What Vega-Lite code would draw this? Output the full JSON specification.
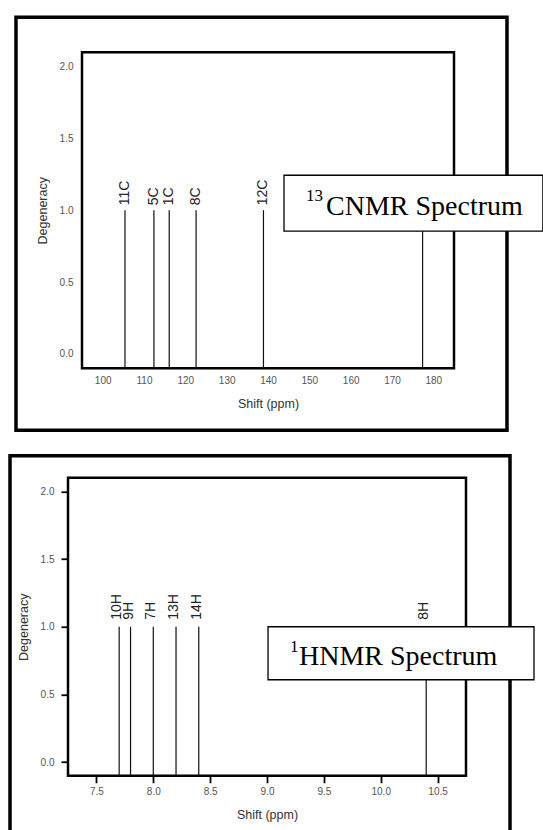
{
  "$schema": "https://vega.github.io/schema/vega-lite/v6.json",
  "background": "white",
  "padding": {"left": 6, "top": 13.25, "right": 0, "bottom": 0},
  "spacing": 18.5,
  "config": {
    "view": {"stroke": "black", "strokeWidth": 2.5},
    "axis": {
      "grid": false, "domain": false,
      "labelFont": "Liberation Sans", "labelFontSize": 10, "labelColor": "#555",
      "titleFont": "Liberation Sans", "titleFontSize": 12.5, "titleFontWeight": "normal", "titleColor": "#333",
      "labelFlush": false, "labelOverlap": false
    }
  },
  "datasets": {
    "c13": [
      {"shift": 105.4, "degeneracy": 1, "label": "11C"},
      {"shift": 112.4, "degeneracy": 1, "label": "5C"},
      {"shift": 116.1, "degeneracy": 1, "label": "1C"},
      {"shift": 122.6, "degeneracy": 1, "label": "8C"},
      {"shift": 138.9, "degeneracy": 1, "label": "12C"},
      {"shift": 177.4, "degeneracy": 1, "label": ""}
    ],
    "h1": [
      {"shift": 7.7, "degeneracy": 1, "label": "10H"},
      {"shift": 7.8, "degeneracy": 1, "label": "9H"},
      {"shift": 8.0, "degeneracy": 1, "label": "7H"},
      {"shift": 8.2, "degeneracy": 1, "label": "13H"},
      {"shift": 8.4, "degeneracy": 1, "label": "14H"},
      {"shift": 10.4, "degeneracy": 1, "label": "8H"}
    ]
  },
  "vconcat": [
    {"spacing": 0, "hconcat": [
    {"width": 1, "height": 1, "view": {"stroke": null}, "data": {"values": [{}]}, "mark": {"type": "point", "opacity": 0, "size": 1}},
    {
      "width": 372, "height": 316,
      "layer": [
        {
          "data": {"name": "c13"},
          "mark": {"type": "rule", "color": "#111", "strokeWidth": 1.2},
          "encoding": {
            "x": {"field": "shift", "type": "quantitative",
                  "scale": {"domain": [95, 185], "nice": false, "zero": false},
                  "axis": {"values": [100, 110, 120, 130, 140, 150, 160, 170, 180], "ticks": false, "labelPadding": 7, "labelOverlap": false, "title": "Shift (ppm)", "titlePadding": 12}},
            "y": {"field": "degeneracy", "type": "quantitative",
                  "scale": {"domain": [-0.1, 2.1], "nice": false, "zero": false},
                  "axis": {"values": [0, 0.5, 1, 1.5, 2], "format": ".1f", "ticks": false, "labelPadding": 9, "labelOverlap": false, "title": "Degeneracy", "titlePadding": 10}},
            "y2": {"datum": -0.1}
          }
        },
        {
          "data": {"name": "c13"},
          "mark": {"type": "text", "angle": 270, "align": "left", "baseline": "middle", "dx": 5, "dy": 0, "font": "Liberation Sans", "fontSize": 14, "color": "#222"},
          "encoding": {
            "x": {"field": "shift", "type": "quantitative", "scale": {"domain": [95, 185], "nice": false, "zero": false}},
            "y": {"field": "degeneracy", "type": "quantitative", "scale": {"domain": [-0.1, 2.1], "nice": false, "zero": false}},
            "text": {"field": "label"}
          }
        },
        {
          "data": {"values": [{}]},
          "mark": {"type": "rect", "filled": false, "stroke": "black", "strokeWidth": 3.5},
          "encoding": {
            "x": {"datum": 79.03, "type": "quantitative", "scale": {"domain": [95, 185], "nice": false, "zero": false}},
            "x2": {"datum": 197.82},
            "y": {"datum": 2.344, "type": "quantitative", "scale": {"domain": [-0.1, 2.1], "nice": false, "zero": false}},
            "y2": {"datum": -0.532}
          }
        },
        {
          "data": {"values": [{}]},
          "mark": {"type": "rect", "fill": "white", "stroke": "black", "strokeWidth": 1.3},
          "encoding": {
            "x": {"datum": 143.87, "type": "quantitative", "scale": {"domain": [95, 185], "nice": false, "zero": false}},
            "x2": {"datum": 206.5},
            "y": {"datum": 1.2437, "type": "quantitative", "scale": {"domain": [-0.1, 2.1], "nice": false, "zero": false}},
            "y2": {"datum": 0.854}
          }
        },
        {
          "data": {"values": [{}]},
          "mark": {"type": "text", "align": "left", "baseline": "alphabetic", "font": "Liberation Serif", "fontSize": 28, "color": "black"},
          "encoding": {
            "x": {"datum": 154.03, "type": "quantitative", "scale": {"domain": [95, 185], "nice": false, "zero": false}},
            "y": {"datum": 0.965, "type": "quantitative", "scale": {"domain": [-0.1, 2.1], "nice": false, "zero": false}},
            "text": {"value": "CNMR Spectrum"}
          }
        },
        {
          "data": {"values": [{}]},
          "mark": {"type": "text", "align": "left", "baseline": "alphabetic", "font": "Liberation Serif", "fontSize": 17, "color": "black"},
          "encoding": {
            "x": {"datum": 149.19, "type": "quantitative", "scale": {"domain": [95, 185], "nice": false, "zero": false}},
            "y": {"datum": 1.0627, "type": "quantitative", "scale": {"domain": [-0.1, 2.1], "nice": false, "zero": false}},
            "text": {"value": "13"}
          }
        },
        {
          "data": {"values": [{}]},
          "mark": {"type": "rule", "opacity": 0, "strokeWidth": 1},
          "encoding": {
            "x": {"datum": 77.28, "type": "quantitative", "scale": {"domain": [95, 185], "nice": false, "zero": false}},
            "y": {"datum": 0, "type": "quantitative", "scale": {"domain": [-0.1, 2.1], "nice": false, "zero": false}},
            "y2": {"datum": 0.5}
          }
        }
      ]
    }
    ]},
    {"spacing": 0, "hconcat": [
    {"width": 1, "height": 1, "view": {"stroke": null}, "data": {"values": [{}]}, "mark": {"type": "point", "opacity": 0, "size": 1}},
    {
      "width": 398, "height": 298,
      "layer": [
        {
          "data": {"name": "h1"},
          "mark": {"type": "rule", "color": "#111", "strokeWidth": 1.2},
          "encoding": {
            "x": {"field": "shift", "type": "quantitative",
                  "scale": {"domain": [7.25, 10.75], "nice": false, "zero": false},
                  "axis": {"values": [7.5, 7.75, 8, 8.25, 8.5, 8.75, 9, 9.25, 9.5, 9.75, 10, 10.25, 10.5],
                           "labelExpr": "abs(datum.value * 2 - round(datum.value * 2)) < 0.01 ? format(datum.value, '.1f') : ''",
                           "labelOverlap": false,
                           "ticks": true, "tickSize": 7, "tickWidth": 1.8, "tickColor": "black", "labelPadding": 4,
                           "title": "Shift (ppm)", "titlePadding": 12}},
            "y": {"field": "degeneracy", "type": "quantitative",
                  "scale": {"domain": [-0.1, 2.1], "nice": false, "zero": false},
                  "axis": {"values": [0, 0.25, 0.5, 0.75, 1, 1.25, 1.5, 1.75, 2],
                           "labelExpr": "abs(datum.value * 2 - round(datum.value * 2)) < 0.01 ? format(datum.value, '.1f') : ''",
                           "labelOverlap": false,
                           "ticks": true, "tickSize": 7, "tickWidth": 1.8, "tickColor": "black", "labelPadding": 7,
                           "title": "Degeneracy", "titlePadding": 10}},
            "y2": {"datum": -0.1}
          }
        },
        {
          "data": {"name": "h1"},
          "mark": {"type": "text", "angle": 270, "align": "left", "baseline": "middle", "dx": 7, "dy": -2, "font": "Liberation Sans", "fontSize": 14, "color": "#222"},
          "encoding": {
            "x": {"field": "shift", "type": "quantitative", "scale": {"domain": [7.25, 10.75], "nice": false, "zero": false}},
            "y": {"field": "degeneracy", "type": "quantitative", "scale": {"domain": [-0.1, 2.1], "nice": false, "zero": false}},
            "text": {"field": "label"}
          }
        },
        {
          "data": {"values": [{}]},
          "mark": {"type": "rect", "filled": false, "stroke": "black", "strokeWidth": 3.5},
          "encoding": {
            "x": {"datum": 6.74, "type": "quantitative", "scale": {"domain": [7.25, 10.75], "nice": false, "zero": false}},
            "x2": {"datum": 11.137},
            "y": {"datum": 2.262, "type": "quantitative", "scale": {"domain": [-0.1, 2.1], "nice": false, "zero": false}},
            "y2": {"datum": -0.57}
          }
        },
        {
          "data": {"values": [{}]},
          "mark": {"type": "rect", "fill": "white", "stroke": "black", "strokeWidth": 1.3},
          "encoding": {
            "x": {"datum": 9.009, "type": "quantitative", "scale": {"domain": [7.25, 10.75], "nice": false, "zero": false}},
            "x2": {"datum": 11.348},
            "y": {"datum": 1.0, "type": "quantitative", "scale": {"domain": [-0.1, 2.1], "nice": false, "zero": false}},
            "y2": {"datum": 0.6087}
          }
        },
        {
          "data": {"values": [{}]},
          "mark": {"type": "text", "align": "left", "baseline": "alphabetic", "font": "Liberation Serif", "fontSize": 28, "color": "black"},
          "encoding": {
            "x": {"datum": 9.2815, "type": "quantitative", "scale": {"domain": [7.25, 10.75], "nice": false, "zero": false}},
            "y": {"datum": 0.7194, "type": "quantitative", "scale": {"domain": [-0.1, 2.1], "nice": false, "zero": false}},
            "text": {"value": "HNMR Spectrum"}
          }
        },
        {
          "data": {"values": [{}]},
          "mark": {"type": "text", "align": "left", "baseline": "alphabetic", "font": "Liberation Serif", "fontSize": 17, "color": "black"},
          "encoding": {
            "x": {"datum": 9.202, "type": "quantitative", "scale": {"domain": [7.25, 10.75], "nice": false, "zero": false}},
            "y": {"datum": 0.81, "type": "quantitative", "scale": {"domain": [-0.1, 2.1], "nice": false, "zero": false}},
            "text": {"value": "1"}
          }
        }
      ]
    }
    ]}
  ]
}
